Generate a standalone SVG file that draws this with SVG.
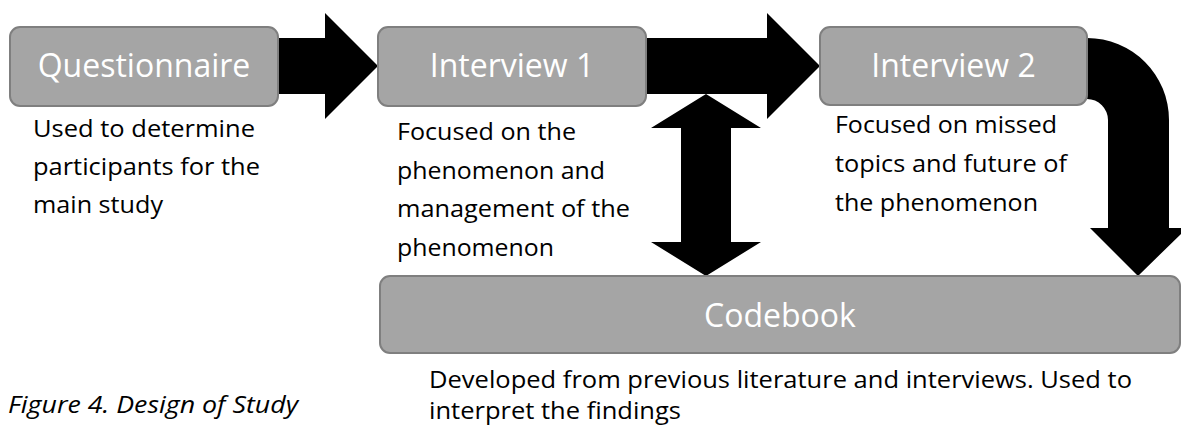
<svg xmlns="http://www.w3.org/2000/svg" width="1181" height="427" viewBox="0 0 1181 427">
  <style>
    .box { fill: #a5a5a5; stroke: #7f7f7f; stroke-width: 2; }
    .title { font-family: "Open Sans", "Noto Sans", sans-serif; font-size: 32px; fill: #ffffff; text-anchor: middle; }
    .note { font-family: "Open Sans", "Noto Sans", sans-serif; font-size: 23px; fill: #000000; }
    .caption { font-family: "Open Sans", "Noto Sans", sans-serif; font-size: 23px; font-style: italic; fill: #000000; }
    .arrow { fill: #000000; stroke: none; }
  </style>
  <rect width="1181" height="427" fill="#ffffff"/>

  <!-- block arrows between the stages -->
  <g id="connectors">
    <path class="arrow" d="M278,38 L325,38 L325,13 L378,66 L325,119 L325,94 L278,94 Z"/>
    <path class="arrow" d="M646,38 L767,38 L767,13 L820,66 L767,119 L767,94 L646,94 Z"/>
    <path class="arrow" d="M706,94 L761,128 L731,128 L731,242 L761,242 L706,276 L651,242 L681,242 L681,128 L651,128 Z"/>
    <path class="arrow" d="M1087,38 A82,82 0 0 1 1169,120 L1169,228 L1187,228 L1138,276 L1090,228 L1108,228 L1108,120 A21,21 0 0 0 1087,99 Z"/>
  </g>

  <g id="questionnaire">
    <rect class="box" x="10" y="27" width="268" height="79" rx="10"/>
    <text class="title" x="144" y="77">Questionnaire</text>
    <text class="note" x="33" y="137" textLength="222" lengthAdjust="spacingAndGlyphs">Used to determine</text>
    <text class="note" x="33" y="175" textLength="227" lengthAdjust="spacingAndGlyphs">participants for the</text>
    <text class="note" x="33" y="213" textLength="130" lengthAdjust="spacingAndGlyphs">main study</text>
  </g>

  <g id="interview1">
    <rect class="box" x="378" y="27" width="268" height="79" rx="10"/>
    <text class="title" x="512" y="77">Interview 1</text>
    <text class="note" x="397" y="140" textLength="179" lengthAdjust="spacingAndGlyphs">Focused on the</text>
    <text class="note" x="397" y="179" textLength="208" lengthAdjust="spacingAndGlyphs">phenomenon and</text>
    <text class="note" x="397" y="217" textLength="233" lengthAdjust="spacingAndGlyphs">management of the</text>
    <text class="note" x="397" y="256" textLength="157" lengthAdjust="spacingAndGlyphs">phenomenon</text>
  </g>

  <g id="interview2">
    <rect class="box" x="820" y="27" width="267" height="78" rx="10"/>
    <text class="title" x="953.5" y="77">Interview 2</text>
    <text class="note" x="835" y="133" textLength="222" lengthAdjust="spacingAndGlyphs">Focused on missed</text>
    <text class="note" x="835" y="172" textLength="232" lengthAdjust="spacingAndGlyphs">topics and future of</text>
    <text class="note" x="835" y="211" textLength="203" lengthAdjust="spacingAndGlyphs">the phenomenon</text>
  </g>

  <g id="codebook">
    <rect class="box" x="380" y="276" width="800" height="77" rx="10"/>
    <text class="title" x="780" y="327">Codebook</text>
    <text class="note" x="429" y="388" textLength="703" lengthAdjust="spacingAndGlyphs">Developed from previous literature and interviews. Used to</text>
    <text class="note" x="429" y="419" textLength="252" lengthAdjust="spacingAndGlyphs">interpret the findings</text>
  </g>

  <g id="caption">
    <text class="caption" x="8" y="413" textLength="290" lengthAdjust="spacingAndGlyphs">Figure 4. Design of Study</text>
  </g>
</svg>
